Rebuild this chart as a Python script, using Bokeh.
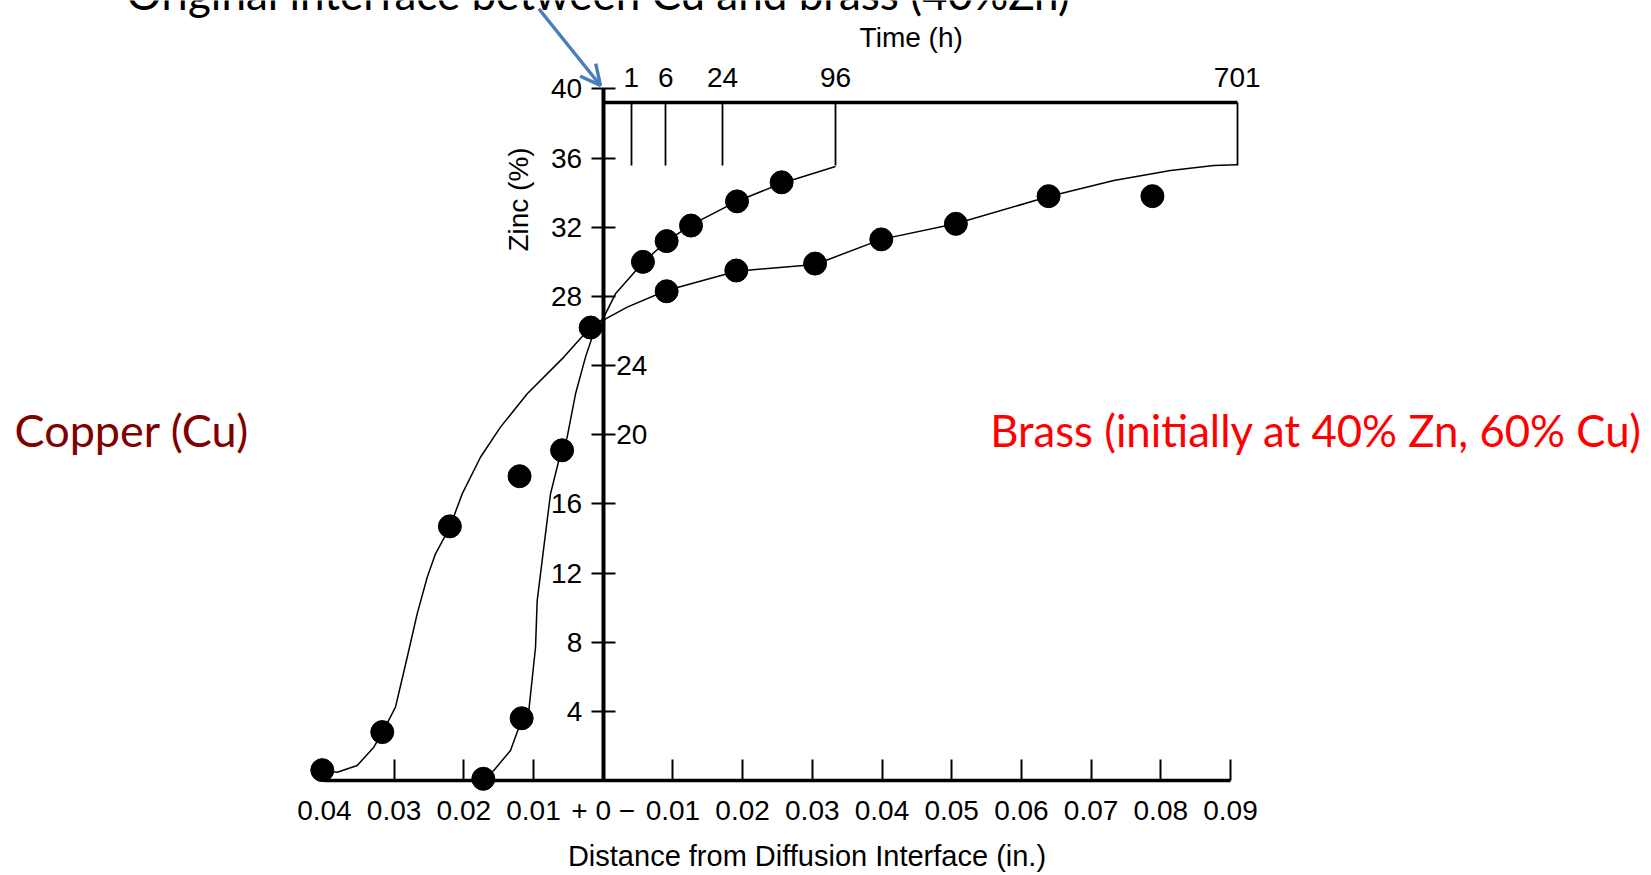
from bokeh.plotting import figure
from bokeh.models import LinearAxis, FixedTicker, Range1d, Arrow, OpenHead, Label
from bokeh.embed import file_html
from bokeh.resources import INLINE

# ---------------- data ----------------
x_ticks = [-0.04, -0.03, -0.02, -0.01, 0.0, 0.01, 0.02, 0.03, 0.04, 0.05, 0.06, 0.07, 0.08, 0.09]
x_tick_labels = ["0.04", "0.03", "0.02", "0.01", "+ 0 \u2212", "0.01", "0.02", "0.03",
                 "0.04", "0.05", "0.06", "0.07", "0.08", "0.09"]
y_ticks = [4, 8, 12, 16, 20, 24, 28, 32, 36, 40]
y_ticks_right = [20, 24]
time_ticks_x = [0.00402, 0.00898, 0.01712, 0.03333, 0.09096]
time_labels = ["1", "6", "24", "96", "701"]

# measured points, 96 h anneal
pts_96_x = [-0.0172, -0.0117, -0.0059, -0.0018, 0.0057, 0.0091, 0.0126, 0.0192, 0.0256]
pts_96_y = [0.1, 3.6, 19.1, 26.2, 30.0, 31.2, 32.1, 33.5, 34.6]
# measured points, 701 h anneal
pts_701_x = [-0.0403, -0.0317, -0.0220, -0.0120, 0.0091, 0.0191, 0.0304, 0.0399, 0.0506, 0.0639, 0.0788]
pts_701_y = [0.6, 2.8, 14.7, 17.6, 28.3, 29.5, 29.9, 31.3, 32.2, 33.8, 33.8]

# fitted curves as drawn in the figure
curve_96_x = [-0.01725, -0.01570, -0.01330, -0.01165, -0.01067, -0.00971, -0.00947, -0.00852,
              -0.00756, -0.00637, -0.00588, -0.00517, -0.00397, -0.00254, -0.00110, 0.00009,
              0.00176, 0.00574, 0.00908, 0.01263, 0.01923, 0.02563, 0.03333]
curve_96_y = [0.06, 0.58, 1.74, 3.57, 4.05, 7.71, 10.41, 13.50, 16.58, 18.51, 19.09, 19.86,
              22.37, 24.49, 26.22, 26.80, 28.15, 29.98, 31.18, 32.14, 33.51, 34.55, 35.52]
curve_701_x = [-0.04030, -0.03816, -0.03529, -0.03291, -0.03171, -0.02980, -0.02812, -0.02669,
               -0.02525, -0.02406, -0.02201, -0.02023, -0.01761, -0.01474, -0.01090, -0.00565,
               -0.00182, 0.00344, 0.00908, 0.01912, 0.03042, 0.03989, 0.05055, 0.06393,
               0.07326, 0.08139, 0.08761, 0.09096]
curve_701_y = [0.58, 0.48, 0.87, 1.93, 2.76, 4.24, 7.13, 9.64, 11.76, 13.11, 14.65, 16.58,
               18.70, 20.44, 22.37, 24.49, 26.22, 27.38, 28.34, 29.46, 29.85, 31.30, 32.20,
               33.78, 34.71, 35.29, 35.58, 35.61]

# ---------------- figure ----------------
W, H = 1651, 875
p = figure(width=W, height=H, output_backend="svg", toolbar_location=None,
           x_axis_location=None, y_axis_location=None,
           x_range=Range1d(-0.086471, 0.150402), y_range=Range1d(-5.495, 45.118),
           min_border=0, outline_line_color=None, background_fill_color="white",
           border_fill_color="white")
p.grid.visible = False

TICK_FONT = "Liberation Sans"
FS = "28px"

# bottom distance axis at y = 0
xa = LinearAxis(fixed_location=0, bounds=(x_ticks[0], x_ticks[-1]),
                ticker=FixedTicker(ticks=x_ticks),
                major_label_overrides={t: l for t, l in zip(x_ticks, x_tick_labels)},
                axis_line_width=3.5, axis_line_color="black",
                major_tick_in=21, major_tick_out=0, major_tick_line_width=2,
                minor_tick_line_color=None,
                major_label_text_font=TICK_FONT, major_label_text_font_size=FS,
                major_label_standoff=14, major_label_text_color="black")
p.add_layout(xa, "below")

# zinc axis at x = 0, labels on the left
ya = LinearAxis(fixed_location=0, bounds=(0, 40), ticker=FixedTicker(ticks=y_ticks),
                major_label_overrides={t: "" for t in y_ticks_right},
                axis_line_width=4, axis_line_color="black",
                major_tick_in=12, major_tick_out=12, major_tick_line_width=2,
                minor_tick_line_color=None,
                major_label_text_font=TICK_FONT, major_label_text_font_size=FS,
                major_label_standoff=9, major_label_text_color="black")
p.add_layout(ya, "left")

# labels 20 and 24 drawn on the right side of the zinc axis
ya2 = LinearAxis(fixed_location=0, bounds=(0, 40), ticker=FixedTicker(ticks=y_ticks_right),
                 axis_line_color=None, major_tick_in=0, major_tick_out=0,
                 minor_tick_line_color=None,
                 major_label_text_font=TICK_FONT, major_label_text_font_size=FS,
                 major_label_standoff=13, major_label_text_color="black")
p.add_layout(ya2, "right")

# time axis (bar at top)
ta = LinearAxis(fixed_location=39.2, bounds=(0, time_ticks_x[-1]),
                ticker=FixedTicker(ticks=time_ticks_x),
                major_label_overrides={t: l for t, l in zip(time_ticks_x, time_labels)},
                axis_line_width=3.5, axis_line_color="black",
                major_tick_in=63, major_tick_out=0, major_tick_line_width=1.8,
                minor_tick_line_color=None,
                major_label_text_font=TICK_FONT, major_label_text_font_size=FS,
                major_label_standoff=16, major_label_text_color="black")
p.add_layout(ta, "above")

# curves and points
p.line(curve_96_x, curve_96_y, line_color="black", line_width=1.5)
p.line(curve_701_x, curve_701_y, line_color="black", line_width=1.5)
p.scatter(pts_96_x, pts_96_y, size=23, color="black")
p.scatter(pts_701_x, pts_701_y, size=23, color="black")

# axis titles
p.add_layout(Label(x=0.04419, y=42.98, text="Time (h)", text_font=TICK_FONT,
                   text_font_size=FS, text_color="black",
                   text_align="center", text_baseline="middle"))
p.add_layout(Label(x=-0.01215, y=33.61, text="Zinc (%)", text_font=TICK_FONT,
                   text_font_size=FS, text_color="black",
                   text_align="center", text_baseline="middle", angle=1.5708))
p.add_layout(Label(x=0.02924, y=-4.34, text="Distance from Diffusion Interface (in.)",
                   text_font=TICK_FONT, text_font_size="29px", text_color="black",
                   text_align="center", text_baseline="middle"))

# annotations
p.add_layout(Label(x=-0.06838, y=45.55, text="Original interface between Cu and brass (40%Zn)",
                   text_font="Lato", text_font_size="44px", text_color="black",
                   text_align="left", text_baseline="middle"))
p.add_layout(Label(x=-0.08446, y=20.25, text="Copper (Cu)", text_font="Lato",
                   text_font_size="45px", text_color="#800000",
                   text_align="left", text_baseline="middle"))
p.add_layout(Label(x=0.05552, y=20.25, text="Brass (initially at 40% Zn, 60% Cu)",
                   text_font="Lato", text_font_size="43.7px", text_color="#FF0000",
                   text_align="left", text_baseline="middle"))
p.add_layout(Arrow(x_start=-0.00924, y_start=44.64, x_end=-0.00039, y_end=40.20,
                   line_color="#4A7EBB", line_width=3.5,
                   end=OpenHead(size=20, line_color="#4A7EBB", line_width=3.5)))

open("out.html", "w").write(file_html(p, INLINE))
